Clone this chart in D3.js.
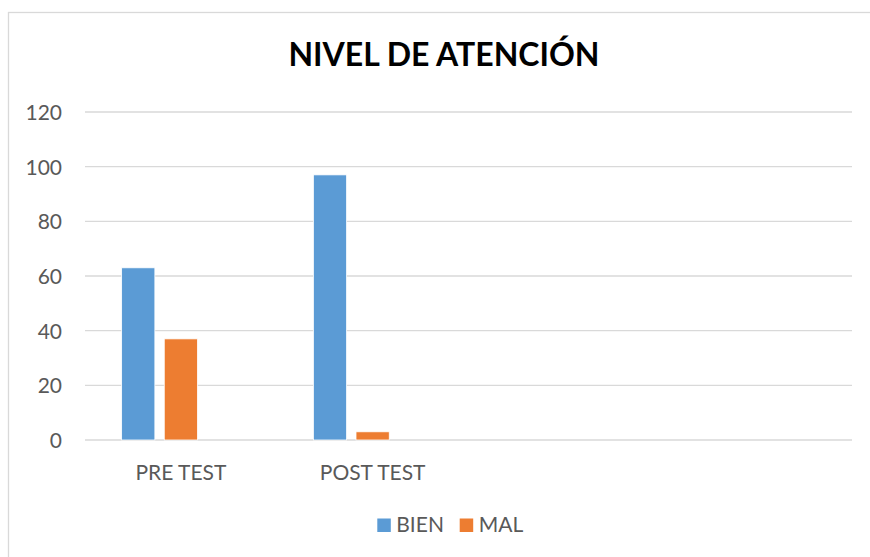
<!DOCTYPE html>
<html>
<head>
<meta charset="utf-8">
<script src="https://cdn.jsdelivr.net/npm/d3@7"></script>
<style>
  html, body { margin: 0; padding: 0; background: #fff; }
  svg { display: block; }
</style>
</head>
<body>
<svg id="chart" width="870" height="557"></svg>
<script>
// ---- data ----
const title = "NIVEL DE ATENCIÓN";
const categories = ["PRE TEST", "POST TEST", "", ""];
const seriesNames = ["BIEN", "MAL"];
const bienValues = [63, 97, null, null];
const malValues = [37, 3, null, null];
const seriesColors = ["#5B9BD5", "#ED7D31"];
const yTicks = [0, 20, 40, 60, 80, 100, 120];
const seriesSlots = 3; // clustered layout reserves three slots per category

const FONT = "Lato, 'Open Sans', sans-serif";
const svg = d3.select("#chart");
const W = 870, H = 557;

// chart frame
svg.append("rect")
  .attr("x", 8.5).attr("y", 12.5)
  .attr("width", W + 10).attr("height", H + 10)
  .attr("fill", "#fff").attr("stroke", "#d9d9d9").attr("stroke-width", 1.3);

const plot = { left: 85, right: 852, top: 112, bottom: 440 };

const x0 = d3.scaleBand()
  .domain(d3.range(categories.length))
  .range([plot.left, plot.right])
  .paddingInner(0).paddingOuter(0);

const bw = x0.bandwidth();
const x1 = d3.scaleBand()
  .domain(d3.range(seriesSlots))
  .range([bw * 0.191, bw * 0.809])
  .paddingInner(0.22).paddingOuter(0);

const y = d3.scaleLinear().domain([0, 120]).range([plot.bottom, plot.top]);

// gridlines
svg.append("g")
  .selectAll("line")
  .data(yTicks)
  .join("line")
  .attr("x1", plot.left).attr("x2", plot.right)
  .attr("y1", d => y(d)).attr("y2", d => y(d))
  .attr("stroke", "#d9d9d9").attr("stroke-width", 1.3);

// y axis labels
const yAxis = d3.axisLeft(y).tickValues(yTicks).tickSize(0).tickPadding(0);
const gy = svg.append("g")
  .attr("transform", `translate(62,0)`)
  .call(yAxis);
gy.select(".domain").remove();
gy.selectAll("text")
  .attr("font-family", FONT).attr("font-size", 21)
  .attr("fill", "#595959").attr("dy", "0.36em");

// x axis labels
const xAxis = d3.axisBottom(x0).tickSize(0).tickPadding(0).tickFormat(i => categories[i]);
const gx = svg.append("g")
  .attr("transform", `translate(0,${plot.bottom + 25})`)
  .call(xAxis);
gx.select(".domain").remove();
gx.selectAll("text")
  .attr("font-family", FONT).attr("font-size", 21)
  .attr("fill", "#595959").attr("dy", "0.71em");

// bars
const seriesValues = [bienValues, malValues];
const barData = [];
seriesValues.forEach((vals, s) => {
  vals.forEach((v, i) => {
    if (v !== null) barData.push({ cat: i, s, v });
  });
});
svg.append("g")
  .selectAll("rect")
  .data(barData)
  .join("rect")
  .attr("x", d => x0(d.cat) + x1(d.s))
  .attr("width", x1.bandwidth())
  .attr("y", d => y(d.v))
  .attr("height", d => y(0) - y(d.v))
  .attr("fill", d => seriesColors[d.s])
  .attr("stroke", "#fff").attr("stroke-width", 0.8);

// title
svg.append("text")
  .attr("x", 444).attr("y", 66)
  .attr("text-anchor", "middle")
  .attr("font-family", FONT).attr("font-weight", "bold").attr("font-size", 32)
  .attr("fill", "#000")
  .text(title);

// legend
const legendX = [377.3, 459.7];
const lg = svg.append("g");
seriesNames.forEach((name, i) => {
  lg.append("rect")
    .attr("x", legendX[i]).attr("y", 518.5)
    .attr("width", 13.5).attr("height", 13.5)
    .attr("fill", seriesColors[i]);
  lg.append("text")
    .attr("x", legendX[i] + 19).attr("y", 532)
    .attr("font-family", FONT).attr("font-size", 21)
    .attr("fill", "#595959")
    .text(name);
});
</script>
</body>
</html>
